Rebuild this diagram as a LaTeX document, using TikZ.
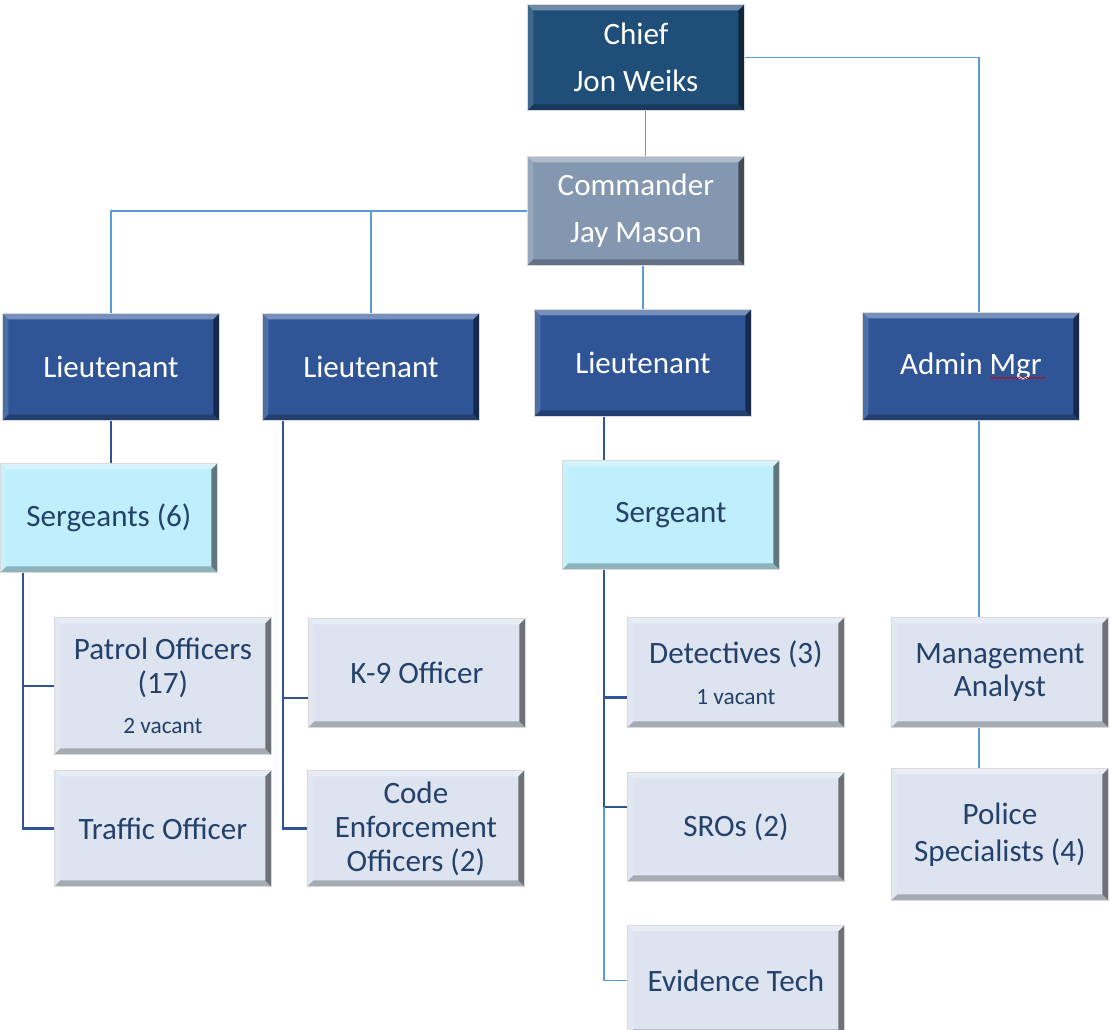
\documentclass[tikz,border=0pt]{standalone}
\usepackage{fontspec}
\setmainfont{Carlito}
\usetikzlibrary{decorations.pathmorphing}

\definecolor{chiefblue}{HTML}{1F4E79}
\definecolor{cmdgrey}{HTML}{8497B0}
\definecolor{ltblue}{HTML}{2F5597}
\definecolor{sgtcyan}{HTML}{BFEFFC}
\definecolor{staffgrey}{HTML}{DDE4F0}
\definecolor{staffink}{HTML}{24416B}
\definecolor{linklight}{HTML}{5B9BD5}
\definecolor{linkdark}{HTML}{2F5597}

\tikzset{
  bevel/.style={path picture={
    \coordinate (bvA) at (path picture bounding box.north west);
    \coordinate (bvB) at (path picture bounding box.north east);
    \coordinate (bvC) at (path picture bounding box.south east);
    \coordinate (bvD) at (path picture bounding box.south west);
    \fill[white,opacity=.35] (bvA) -- (bvB) -- ([shift={(-4.5pt,-4.5pt)}]bvB) -- ([shift={(4.5pt,-4.5pt)}]bvA) -- cycle;
    \fill[white,opacity=.15] (bvA) -- ([shift={(4.5pt,-4.5pt)}]bvA) -- ([shift={(4.5pt,4.5pt)}]bvD) -- (bvD) -- cycle;
    \fill[black,opacity=.25] (bvD) -- ([shift={(4.5pt,4.5pt)}]bvD) -- ([shift={(-4.5pt,4.5pt)}]bvC) -- (bvC) -- cycle;
    \fill[black,opacity=.5] (bvC) -- ([shift={(-4.5pt,4.5pt)}]bvC) -- ([shift={(-4.5pt,-4.5pt)}]bvB) -- (bvB) -- cycle;
  }},
  orgbox/.style={bevel, draw=black!15, line width=0.6pt, anchor=north west, align=center,
    minimum width=162.75pt, inner sep=2pt, font=\fontsize{23.3}{25.5}\selectfont},
  darkbox/.style={orgbox, fill=#1, text=white},
  lightbox/.style={orgbox, fill=#1, text=staffink},
  thinlink/.style={draw=linklight, line width=1pt},
  darklink/.style={draw=linkdark, line width=1.9pt},
}

\newcommand{\vacant}[1]{{\fontsize{17.5}{19}\selectfont #1}}

\begin{document}
\begin{tikzpicture}[x=0.75pt,y=-0.75pt]
    \useasboundingbox (0,0) rectangle (1114,1030);

    % Top level
    \node (chief) [darkbox=chiefblue, minimum height=79.5pt, font=\fontsize{23.3}{35}\selectfont] at (527,4) {Chief\\Jon Weiks};
    \node (cmdr) [darkbox=cmdgrey, minimum height=81.75pt, font=\fontsize{23.3}{35}\selectfont] at (527,156) {Commander\\Jay Mason};

    % Lieutenants
    \node (lt1) [darkbox=ltblue, minimum height=80.25pt] at (2,313) {Lieutenant};
    \node (lt2) [darkbox=ltblue, minimum height=80.25pt] at (262,313) {Lieutenant};
    \node (lt3) [darkbox=ltblue, minimum height=80.25pt] at (534,309) {Lieutenant};
    \node (admin) [darkbox=ltblue, minimum height=81pt] at (862,312) {Admin Mgr};

    % Sergeants
    \node (sgts) [lightbox=sgtcyan, minimum height=81.75pt] at (0,463) {Sergeants (6)};
    \node (sgt) [lightbox=sgtcyan, minimum height=81.75pt] at (562,460) {Sergeant};

    % Staff
    \node (patrol) [lightbox=staffgrey, minimum height=102.75pt] at (54,617) {Patrol Officers\\(17)\\[4pt]\vacant{2 vacant}};
    \node (traffic) [lightbox=staffgrey, minimum height=87pt] at (54,770) {Traffic Officer};
    \node (k9) [lightbox=staffgrey, minimum height=81.75pt] at (308,618) {K-9 Officer};
    \node (code) [lightbox=staffgrey, minimum height=87pt] at (307,770) {Code\\Enforcement\\Officers (2)};
    \node (detect) [lightbox=staffgrey, minimum height=82.5pt] at (627,617) {Detectives (3)\\[5pt]\vacant{1 vacant}};
    \node (sros) [lightbox=staffgrey, minimum height=81.75pt] at (627,772) {SROs (2)};
    \node (evid) [lightbox=staffgrey, minimum height=82.5pt] at (627,925) {Evidence Tech};
    \node (analyst) [lightbox=staffgrey, minimum height=82.5pt, font=\fontsize{23.3}{25}\selectfont] at (891,617) {Management\\Analyst};
    \node (spec) [lightbox=staffgrey, minimum height=99pt, font=\fontsize{23.3}{28}\selectfont] at (891,768) {Police\\Specialists (4)};

    % spell-check underline
    \draw[red!80!black, line width=0.5pt, decorate, decoration={snake, amplitude=0.7pt, segment length=3pt}] (990,378) -- (1046,378);

    % Spines
    \coordinate (sgtsspine) at ([xshift=17.25pt]sgts.south west);
    \coordinate (lt2spine) at ([xshift=15.75pt]lt2.south west);
    \coordinate (sgtspine) at ([xshift=31.5pt]sgt.south west);
    \coordinate (k9in) at ([yshift=-18.75pt]k9.west);
    \coordinate (detin) at ([yshift=-18.75pt]detect.west);
    \coordinate (srosin) at ([yshift=15pt]sros.west);
    \coordinate (adminx) at ([xshift=6pt]admin.south);

    % Links from the top
    \draw[thinlink] ([xshift=7pt]chief.south) -- ([xshift=7pt]chief.south |- cmdr.north);
    \draw[thinlink] (chief.east) -| (adminx |- admin.north);
    \draw[thinlink] (cmdr.west) -| (lt1.north);
    \draw[thinlink] (cmdr.west -| lt2.north) -- (lt2.north);
    \draw[thinlink] (lt3.north |- cmdr.south) -- (lt3.north);

    % Patrol side
    \draw[darklink] (lt1.south) -- (lt1.south |- sgts.north);
    \draw[darklink] (sgtsspine) |- (traffic.west);
    \draw[darklink] (sgtsspine |- patrol.west) -- (patrol.west);

    % K-9 and code side
    \draw[darklink] (lt2spine) |- (code.west);
    \draw[darklink] (lt2spine |- k9in) -- (k9in);

    % Investigations side
    \draw[darklink] (lt3.south -| sgtspine) -- (sgt.north -| sgtspine);
    \draw[darklink] (sgtspine) |- (srosin);
    \draw[darklink] (sgtspine |- detin) -- (detin);
    \draw[thinlink] (sgtspine |- srosin) |- (evid.west);

    % Admin side
    \draw[thinlink] (adminx) -- (adminx |- analyst.north);
    \draw[thinlink] (adminx |- analyst.south) -- (adminx |- spec.north);
\end{tikzpicture}
\end{document}
